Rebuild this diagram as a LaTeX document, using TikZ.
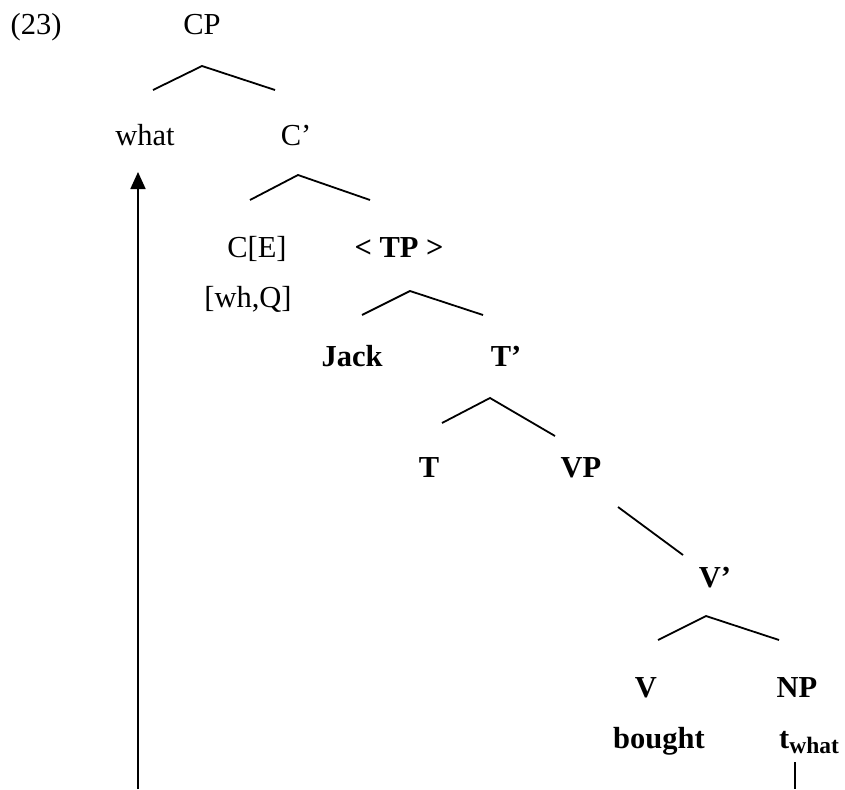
\documentclass[tikz,border=0pt]{standalone}
\usepackage{fontspec}
\setmainfont{Liberation Serif}
\usetikzlibrary{arrows.meta}
\newcommand\fs{\fontsize{30.5}{36}\selectfont}
\newcommand\fsub{\fontsize{23.5}{26}\selectfont}
\tikzset{
  lbl/.style={anchor=base, inner sep=0pt, font=\fs},
  bl/.style={lbl, font=\fs\bfseries},
  br/.style={line width=1.8pt},
}
\begin{document}
\begin{tikzpicture}[x=1pt,y=1pt]
\useasboundingbox (0,0) rectangle (845,-789);
% labels
\node[lbl] (n23) at (36,-35) {(23)};
\node[lbl] (cp) at (202,-35) {CP};
\node[lbl] (what) at (145,-146) {what};
\node[lbl] (cbar) at (296,-146) {C’};
\node[lbl] (ce) at (257,-257) {C[E]};
\node[bl] (tp) at (399,-257) {< TP >};
\node[lbl] (whq) at (248,-307) {[wh,Q]};
\node[bl] (jack) at (352,-366) {Jack};
\node[bl] (tbar) at (506,-366) {T’};
\node[bl] (t) at (429,-477) {T};
\node[bl] (vp) at (581,-477) {VP};
\node[bl] (vbar) at (715,-587) {V’};
\node[bl] (v) at (646,-697) {V};
\node[bl] (np) at (797,-697) {NP};
\node[bl] (bought) at (659,-748) {bought};
\node[bl, anchor=base west] (trace) at (779,-748) {t\raisebox{-5pt}{\fsub\bfseries what}};
% branch points
\coordinate (a1) at (202,-66); \coordinate (l1) at (153,-90); \coordinate (r1) at (275,-90);
\coordinate (a2) at (298,-175); \coordinate (l2) at (250,-200); \coordinate (r2) at (370,-200);
\coordinate (a3) at (410,-291); \coordinate (l3) at (362,-315); \coordinate (r3) at (483,-315);
\coordinate (a4) at (490,-398); \coordinate (l4) at (442,-423); \coordinate (r4) at (555,-436);
\coordinate (s5) at (618,-507); \coordinate (e5) at (683,-555);
\coordinate (a6) at (706,-616); \coordinate (l6) at (658,-640); \coordinate (r6) at (779,-640);
\coordinate (tl1) at (795,-762); \coordinate (tl2) at (795,-789);
\coordinate (arrbot) at (138,-789); \coordinate (arrtip) at (138,-172);
% branches
\draw[br] (l1) -- (a1) -- (r1);
\draw[br] (l2) -- (a2) -- (r2);
\draw[br] (l3) -- (a3) -- (r3);
\draw[br] (l4) -- (a4) -- (r4);
\draw[br] (s5) -- (e5);
\draw[br] (l6) -- (a6) -- (r6);
\draw[br] (tl1) -- (tl2);
\draw[br, -{Triangle[length=17pt,width=15pt]}] (arrbot) -- (arrtip);
\end{tikzpicture}
\end{document}
